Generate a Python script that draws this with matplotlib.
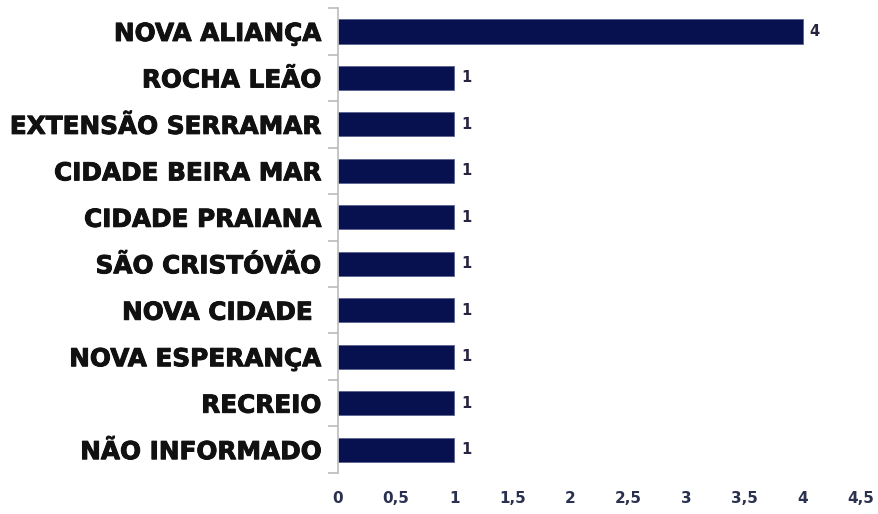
import matplotlib.pyplot as plt
import matplotlib.patheffects as pe

bairros = ['NOVA ALIANÇA', 'ROCHA LEÃO', 'EXTENSÃO SERRAMAR', 'CIDADE BEIRA MAR',
           'CIDADE PRAIANA', 'SÃO CRISTÓVÃO', 'NOVA CIDADE ', 'NOVA ESPERANÇA',
           'RECREIO', 'NÃO INFORMADO']
valores = [4, 1, 1, 1, 1, 1, 1, 1, 1, 1]
ticks = [0, 0.5, 1, 1.5, 2, 2.5, 3, 3.5, 4, 4.5]
tick_labels = ['0', '0,5', '1', '1,5', '2', '2,5', '3', '3,5', '4', '4,5']

fig = plt.figure(figsize=(8.79, 5.14), dpi=100)
ax = fig.add_axes([0.3845, 0.08, 0.595, 0.904])

pos = list(range(len(bairros)))
ax.barh(pos, valores, height=0.52, color='#07114f', edgecolor='#5a6290', linewidth=0.6)
ax.set_ylim(len(bairros) - 0.5, -0.5)
ax.set_xlim(0, 4.5)

for p, v in zip(pos, valores):
    ax.text(v + 0.06, p, str(v), va='center', ha='left', fontsize=10.5,
            fontweight='bold', color='#2a2340')

ax.set_yticks(pos)
ax.set_yticklabels(bairros, fontsize=17.8, fontweight='bold', color='#111111')
for t in ax.get_yticklabels():
    t.set_path_effects([pe.withStroke(linewidth=0.7, foreground='#111111')])
ax.set_xticks(ticks)
ax.set_xticklabels(tick_labels, fontsize=11, fontweight='bold', color='#2a3050')

# marcas entre categorias no eixo y
ax.set_yticks([i - 0.5 for i in range(len(bairros) + 1)], minor=True)
ax.tick_params(axis='y', which='major', length=0, pad=12)
ax.tick_params(axis='y', which='minor', length=7, color='#bbbbbb', width=1.2)
ax.tick_params(axis='x', length=0, pad=13)

for s in ['top', 'right', 'bottom']:
    ax.spines[s].set_visible(False)
ax.spines['left'].set_color('#bbbbbb')
ax.spines['left'].set_linewidth(1.2)

fig.savefig('out.png', dpi=100)
